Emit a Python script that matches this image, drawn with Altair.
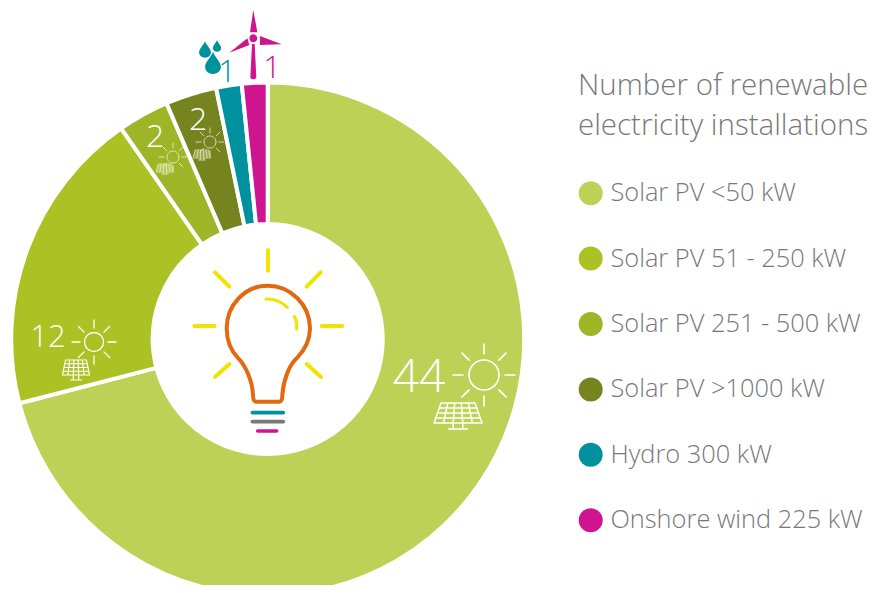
import math
import altair as alt
import pandas as pd

categories = ["Solar PV <50 kW", "Solar PV 51 - 250 kW", "Solar PV 251 - 500 kW",
              "Solar PV >1000 kW", "Hydro 300 kW", "Onshore wind 225 kW"]
values = [44, 12, 2, 2, 1, 1]
colors = ["#bdd157", "#abc124", "#9db527", "#76841f", "#00919e", "#cf1490"]
title_lines = ["Number of renewable", "electricity installations"]

FONT = "Open Sans"
GREY = "#77787a"
df = pd.DataFrame({"category": categories, "value": values, "rank": range(6)})
one = pd.DataFrame({"a": [0]})

CX, CY = 267.7, 339

donut = alt.Chart(df).mark_arc(radius=256.5, innerRadius=115, stroke="white", strokeWidth=4).encode(
    x=alt.value(CX - 8), y=alt.value(CY - 8),
    theta=alt.Theta("value:Q", stack=True,
                    scale=alt.Scale(domain=[0, sum(values)], range=[0, 2 * math.pi])),
    order=alt.Order("rank:Q"),
    color=alt.Color("category:N", sort=categories,
                    scale=alt.Scale(domain=categories, range=colors),
                    legend=alt.Legend(
                        orient="none", legendX=570, legendY=64,
                        title=title_lines, titleFont=FONT, titleFontSize=29.5, titleFontWeight=300,
                        titleColor=GREY, titleLimit=400, titleLineHeight=40, titlePadding=39,
                        labelFont=FONT, labelFontSize=25.4, labelFontWeight=300, labelColor=GREY,
                        labelLimit=400, labelOffset=7, symbolType="circle", symbolSize=576,
                        symbolStrokeWidth=0, rowPadding=38.4, padding=0)),
)


def glyph(path, ox, oy, scale=1.0, fill=None, stroke=None, sw=1.0):
    kw = {"shape": path, "size": 4 * scale * scale, "opacity": 1}
    if fill:
        kw.update(filled=True, fill=fill, strokeWidth=0)
    else:
        kw.update(filled=False, stroke=stroke, strokeWidth=sw, strokeCap="round", strokeJoin="round")
    return alt.Chart(one).mark_point(**kw).encode(x=alt.value(ox - 8), y=alt.value(oy - 8))


def label(text, x, y, size, color="white", align="center"):
    return alt.Chart(pd.DataFrame({"t": [text]})).mark_text(
        font=FONT, fontWeight=300, fontSize=size, color=color, align=align, baseline="alphabetic"
    ).encode(text="t:N", x=alt.value(x - 8), y=alt.value(y - 8))


def sun(cx, cy, r, r1, r2, color="white", sw=1.5):
    p = f"M{r} 0A{r} {r} 0 1 0 {-r} 0A{r} {r} 0 1 0 {r} 0"
    for i in range(8):
        a = i * math.pi / 4
        p += (f"M{r1 * math.cos(a):.2f} {r1 * math.sin(a):.2f}"
              f"L{r2 * math.cos(a):.2f} {r2 * math.sin(a):.2f}")
    return glyph(p, cx, cy, stroke=color, sw=sw)


def panel(cx, top, wt, wb, h, stand, color="white", sw=1.0):
    p = f"M{-wt/2} 0L{wt/2} 0L{wb/2} {h}L{-wb/2} {h}Z"
    for k in range(1, 4):
        f = k / 4
        w = wt + (wb - wt) * f
        p += f"M{-w/2:.2f} {h*f:.2f}L{w/2:.2f} {h*f:.2f}"
    for k in range(1, 5):
        f = k / 5 - 0.5
        p += f"M{wt*f:.2f} 0L{wb*f:.2f} {h}"
    p += f"M{-wb*0.1:.2f} {h}L{-wb*0.1:.2f} {h+stand}M{wb*0.1:.2f} {h}L{wb*0.1:.2f} {h+stand}"
    p += f"M{-wb*0.2:.2f} {h+stand}L{wb*0.2:.2f} {h+stand}"
    return glyph(p, cx, top, stroke=color, sw=sw)


layers = [donut]

# value labels and solar icons
layers += [label("44", 419, 392, 46), sun(484, 375, 15, 21, 31, sw=1.6), panel(458, 403, 34, 48, 20, 6, sw=1.5)]
layers += [label("12", 48, 347, 31), sun(94, 342, 9.5, 14, 22, sw=1.3), panel(76, 360, 21, 27, 15, 5, sw=1.2)]
layers += [label("2", 155, 147, 32), sun(173, 157, 6, 9, 14, color="#e6ecc0", sw=0.9),
           panel(165, 164, 13, 17, 8, 2, color="#e6ecc0", sw=0.8)]
layers += [label("2", 198, 130, 32), sun(210, 142, 6, 9, 14, color="#dfe3b8", sw=0.9),
           panel(202, 150, 13, 17, 8, 2, color="#dfe3b8", sw=0.8)]
layers += [label("1", 227, 82, 31, color="#00919e"), label("1", 272, 78, 31, color="#cf1490")]

# droplets
DROP = "M0 -1C0.25 -0.45 0.72 -0.05 0.72 0.35C0.72 0.75 0.38 1 0 1C-0.38 1 -0.72 0.75 -0.72 0.35C-0.72 -0.05 -0.25 -0.45 0 -1Z"
layers += [glyph(DROP, 205, 49.5, 8.2, fill="#00919e"),
           glyph(DROP, 217, 46, 5.8, fill="#00919e"),
           glyph(DROP, 213, 63, 11, fill="#00919e")]

# wind turbine (path in zoom-crop units, 3 units per pixel)
TURBINE = ("M250 30L262 97L240 97Z"
           "M178 158L232 115L238 135Z"
           "M335 133L270 108L270 135Z"
           "M246 132L254 132L259 232C259 240 241 240 241 232Z"
           "M262 115A12 12 0 1 0 238 115A12 12 0 1 0 262 115Z")
layers += [glyph(TURBINE, 170, 0, 1 / 3, fill="#cf1490")]

# light bulb (path in zoom-crop units, 3 units per pixel)
RAYS = ("M294 60L294 122M452 127L410 170M455 288L517 288M410 402L453 441"
        "M178 402L135 441M73 288L134 288M135 127L178 170")
BULB = ("M258 515C250 515 249 505 249 495C247 450 225 405 205 385C185 365 170 335 170 295"
        "C170 225 225 167 293 167C362 167 420 225 420 295C420 335 400 365 380 385"
        "C358 405 340 450 337 495C337 505 336 515 328 515Z")
GLINT = "M288 207C315 206 335 215 352 232M373 260C380 272 381 285 380 297"
layers += [
    glyph(RAYS, 170, 230, 1 / 3, stroke="#f0e400", sw=4),
    glyph(BULB, 170, 230, 1 / 3, stroke="#e2690f", sw=4),
    glyph(GLINT, 170, 230, 1 / 3, stroke="#f0e400", sw=3.2),
    glyph("M247 548L340 548", 170, 230, 1 / 3, stroke="#00919e", sw=3.6),
    glyph("M247 575L340 575", 170, 230, 1 / 3, stroke="#77787a", sw=3.6),
    glyph("M263 603L320 603", 170, 230, 1 / 3, stroke="#cf1490", sw=3.6),
]

chart = alt.layer(*layers).properties(
    width=859, height=577, padding=0, autosize=alt.AutoSizeParams(type="none"),
    background="white",
).configure_view(stroke=None)

chart.save("out.html", embed_options={"renderer": "svg", "actions": False})
